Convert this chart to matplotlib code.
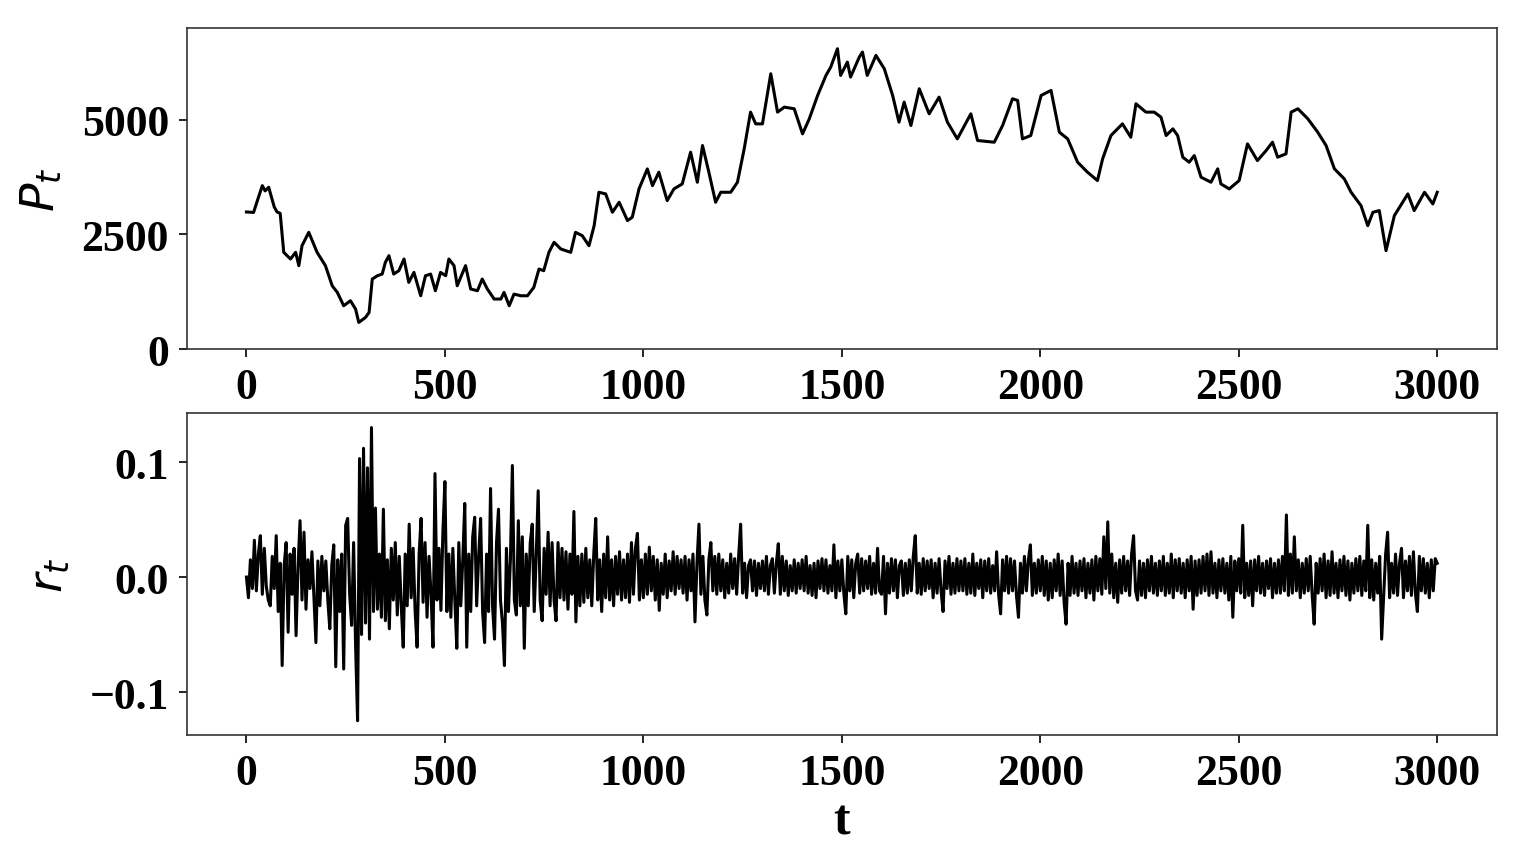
import numpy as np
import matplotlib
matplotlib.use("Agg")
import matplotlib.pyplot as plt

plt.rcParams['font.family'] = 'serif'
plt.rcParams['font.serif'] = ['Liberation Serif', 'DejaVu Serif']
plt.rcParams['mathtext.fontset'] = 'dejavusans'

# price P_t at uneven time steps
price_t = [0, 18, 28, 40, 47, 56, 70, 77, 85, 94, 111, 124, 132, 140, 157, 178, 199, 216, 229, 245,
           262, 275, 283, 300, 309, 317, 330, 342, 350, 359, 371, 384, 397, 409, 422, 439, 451, 464, 476, 489,
           502, 510, 523, 531, 552, 565, 582, 594, 607, 624, 641, 649, 662, 674, 691, 708, 724, 737, 749, 762,
           775, 792, 817, 829, 846, 863, 876, 888, 905, 922, 939, 960, 972, 989, 1010, 1023, 1039, 1060, 1077, 1098,
           1119, 1136, 1149, 1165, 1182, 1195, 1220, 1237, 1254, 1270, 1283, 1300, 1321, 1338, 1355, 1380, 1401, 1418, 1439, 1460,
           1472, 1489, 1497, 1514, 1522, 1544, 1552, 1564, 1586, 1607, 1628, 1644, 1657, 1674, 1695, 1720, 1745, 1766, 1791, 1825,
           1842, 1884, 1905, 1930, 1943, 1955, 1976, 2002, 2027, 2048, 2069, 2094, 2119, 2144, 2157, 2178, 2207, 2228, 2241, 2266,
           2287, 2304, 2317, 2334, 2346, 2359, 2375, 2388, 2405, 2430, 2447, 2455, 2476, 2501, 2522, 2547, 2569, 2585, 2598, 2619,
           2632, 2649, 2674, 2699, 2720, 2741, 2766, 2783, 2808, 2825, 2838, 2854, 2871, 2892, 2926, 2942, 2968, 2989, 3000]
price = [2990, 2980, 3250, 3565, 3450, 3530, 3100, 2990, 2960, 2110, 1965, 2110, 1820, 2255, 2547, 2110, 1820, 1382, 1237, 946,
         1055, 873, 582, 692, 800, 1528, 1600, 1637, 1893, 2037, 1637, 1710, 1965, 1455, 1673, 1164, 1600, 1637, 1273, 1673,
         1600, 1965, 1820, 1382, 1820, 1310, 1273, 1528, 1310, 1092, 1092, 1237, 946, 1200, 1164, 1164, 1346, 1746, 1710, 2110,
         2329, 2183, 2110, 2547, 2474, 2255, 2692, 3420, 3384, 2984, 3202, 2802, 2875, 3493, 3929, 3565, 3857, 3238, 3493, 3602,
         4294, 3638, 4439, 3857, 3202, 3420, 3420, 3638, 4366, 5167, 4911, 4911, 6003, 5167, 5276, 5240, 4693, 5021, 5530, 5967,
         6148, 6549, 5967, 6258, 5931, 6367, 6476, 5967, 6403, 6112, 5530, 4948, 5385, 4875, 5676, 5130, 5494, 4948, 4584, 5130,
         4548, 4511, 4875, 5458, 5421, 4584, 4657, 5530, 5640, 4729, 4584, 4075, 3857, 3675, 4148, 4657, 4911, 4620, 5349, 5167,
         5167, 5058, 4657, 4802, 4657, 4184, 4075, 4220, 3748, 3639, 3930, 3602, 3493, 3675, 4475, 4111, 4330, 4511, 4184, 4257,
         5167, 5240, 5021, 4729, 4439, 3930, 3711, 3420, 3128, 2692, 2984, 3020, 2147, 2911, 3384, 3020, 3420, 3165, 3420]

# returns r_t every 5 steps, in units of 1e-3
returns_t = list(range(0, 3001, 5))
returns_milli = [
    0, -18, 15, -10, 32, -12, 20, 36, -15, 25, -8, -20, -25, 18, -10, 36, -30, 12, -77, 10,
    30, -48, 20, -15, 25, -51, 10, 49, -20, 39, -28, 15, -10, 22, -18, -57, 14, -25, 18, -12,
    14, -20, -45, 10, 28, -78, 15, -30, 20, -80, 45, 51, -15, -42, 30, -60, -125, 103, -50, 112,
    -40, 95, -54, 130, -30, 60, -28, 20, -35, 59, -38, 15, -45, 25, -20, 30, -33, 18, -25, -61,
    20, -25, 46, -18, 25, -30, -61, 20, 51, -22, 30, -35, 18, -15, -61, 90, -20, 25, -29, 40,
    83, -30, 20, -35, 25, -20, -62, 30, -25, 15, 64, -61, 20, -30, 35, 52, -25, 18, 51, -30,
    -57, 20, -30, 77, -25, -54, 30, 59, -20, -40, -77, 25, -30, 15, 97, -20, -33, 49, -25, 35,
    -62, 20, -25, 30, 46, -30, 18, 75, -20, -38, 25, -15, 39, -25, 30, -20, -38, 30, -18, 25,
    -20, 22, -28, 20, -15, 57, -39, 18, -25, 20, -22, 25, -18, 15, -25, 20, 51, -20, 15, -30,
    20, -18, 35, -20, 15, -25, 18, -15, 22, -20, 15, -18, 20, -22, 30, -15, 25, 38, -20, 15,
    -18, 20, -15, 26, -12, 18, -20, 15, -29, 12, -15, 20, -18, 14, -12, 22, -15, 18, -10, 15,
    -14, 18, -20, 15, -12, 20, -39, 12, 46, -15, 18, -20, -33, 15, 30, -12, 18, -15, 20, -12,
    15, -18, 12, -14, 20, -10, 16, -15, 18, 46, -14, 12, -18, 10, 15, -12, 14, -16, 12, -10,
    14, -12, 18, -15, 10, 16, -14, 12, 29, -15, 18, -12, 14, -16, 10, -12, 15, -14, 12, -10,
    15, -12, 18, -14, 10, -16, 12, -18, 14, -10, 16, -12, 15, -14, 10, -12, 28, -18, 14, -12,
    15, -14, -32, 18, -12, 15, -18, 12, 20, -14, 16, -12, 14, -10, 18, -15, 12, -14, 25, -12,
    -15, 18, -32, 12, -14, 16, -12, 15, -18, 10, 14, -16, 12, -14, 15, -12, 18, 36, -14, 12,
    -15, 16, -12, 14, -10, 15, -18, 12, -14, 16, -12, -30, 14, -10, 18, -15, 12, -14, 16, -12,
    14, -12, 16, -15, 12, -14, 20, -16, 12, -10, 15, -18, 14, -12, 16, -14, 10, -12, 22, -15,
    -32, 15, -12, 18, -14, 16, -12, 14, -16, -35, 12, -14, 18, -12, 15, 28, -16, 12, -14, 15,
    -12, 18, -16, 14, -20, 12, -18, 15, -12, 20, -16, 14, -22, -41, 12, -16, 18, -14, 12, -16,
    14, -12, 16, -18, 12, -14, 15, -20, 18, -12, 16, -15, 35, -10, 48, -14, 20, -18, 12, -22,
    15, -14, 18, -12, 14, -16, 20, 36, -12, -20, 14, -16, 12, -18, 15, -12, 18, -14, 12, -16,
    14, -12, 18, -16, 12, -14, 20, -18, 15, -12, 16, -14, 12, -18, 15, -12, 18, -28, 14, -16,
    15, -14, 18, -12, 20, -16, 22, -14, 12, -18, 15, -12, 16, -14, 12, -20, 18, -35, 14, -12,
    16, -14, 45, -18, 12, -16, 14, -25, 15, -12, 18, -14, 12, -16, 14, -10, 16, -18, 12, -14,
    15, -14, 18, -12, 54, -16, 20, -14, 35, -12, 15, -18, 12, -14, 16, -12, 18, -16, -41, 12,
    -14, 16, -12, 20, -18, 14, -16, 22, -14, 12, -18, 15, -12, 18, -16, 14, -20, 12, -14, 16,
    -12, 18, -16, 14, -12, 45, -18, 15, -20, 12, -14, 18, -54, -16, 20, 39, -18, 12, -14, 20,
    -16, 12, 25, -18, 14, -12, 18, -16, 22, -14, -30, 18, -12, 16, -14, 12, -18, 15, -12, 16,
    12]
returns = np.array(returns_milli) / 1000.0

fig = plt.figure(figsize=(15.32, 8.54), dpi=100)
ax1 = fig.add_axes([0.122, 0.590, 0.855, 0.376])
ax2 = fig.add_axes([0.122, 0.138, 0.855, 0.377])

ax1.plot(price_t, price, color='black', linewidth=2.2)
ax1.set_ylim(0, 7000)
ax1.set_yticks([0, 2500, 5000])
ax1.set_ylabel(r'$P_t$', fontsize=34, labelpad=12)

ax2.plot(returns_t, returns, color='black', linewidth=2.2)
ax2.set_ylim(-0.1375, 0.1425)
ax2.set_yticks([-0.1, 0.0, 0.1])
ax2.set_ylabel(r'$r_t$', fontsize=34, labelpad=12)
ax2.set_xlabel('t', fontsize=36, fontweight='bold', labelpad=4)

for ax in (ax1, ax2):
    ax.set_xlim(-150, 3150)
    ax.set_xticks([0, 500, 1000, 1500, 2000, 2500, 3000])
    ax.tick_params(labelsize=31.5, length=6, width=1.2, pad=7)
    for lab in ax.get_xticklabels() + ax.get_yticklabels():
        lab.set_fontweight('bold')
    for s in ax.spines.values():
        s.set_color('#333333')
        s.set_linewidth(1.2)

fig.savefig('out.png', dpi=100)
